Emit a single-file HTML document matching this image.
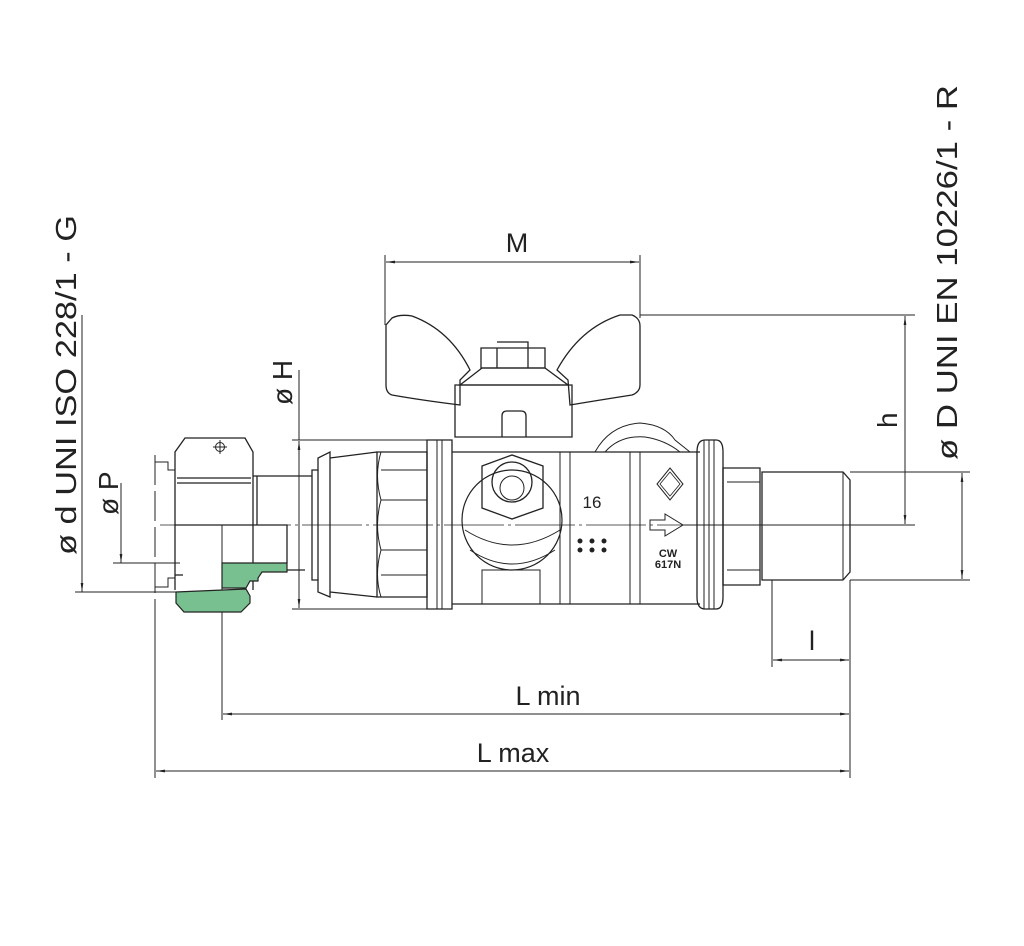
<!DOCTYPE html>
<html><head><meta charset="utf-8"><style>
html,body{margin:0;padding:0;background:#fff}
svg{display:block}
text{font-family:"Liberation Sans",sans-serif;fill:#222}
</style></head><body>
<svg width="1024" height="946" viewBox="0 0 1024 946" xmlns="http://www.w3.org/2000/svg">
<defs>
<marker id="a" viewBox="0 0 10 10" refX="10" refY="5" markerWidth="9" markerHeight="9" orient="auto-start-reverse" markerUnits="userSpaceOnUse"><path d="M0,3.5 L10,5 L0,6.5 Z" fill="#222"/></marker>
</defs>
<g stroke="#222" stroke-width="1.3" fill="none">
<line x1="160" y1="525" x2="870" y2="525" stroke-width="0.8" stroke-dasharray="60 4 3 4"/>
<line x1="155" y1="600" x2="155" y2="778" stroke-width="1"/>
<line x1="155" y1="455" x2="155" y2="600" stroke-dasharray="30 6" stroke-width="1"/>
<line x1="222" y1="525" x2="222" y2="720" stroke-width="1"/>
<line x1="75" y1="592" x2="180" y2="592" stroke-width="1"/>
<line x1="113" y1="563" x2="180" y2="563" stroke-width="1"/>
<line x1="82" y1="315" x2="82" y2="592" marker-end="url(#a)" stroke-width="1"/>
<line x1="121" y1="483" x2="121" y2="563" marker-end="url(#a)" stroke-width="1"/>
<path d="M155,462 H168 V470 H175 M175,578 H168 V587 H155" stroke-width="1"/>
<path d="M185,438 H245 L253,452 V525 H175 V452 Z"/>
<line x1="177" y1="478" x2="251" y2="478"/>
<line x1="177" y1="483" x2="251" y2="483"/>
<circle cx="220" cy="447" r="4.5" stroke-width="1"/>
<line x1="220" y1="440" x2="220" y2="454" stroke-width="1"/>
<line x1="213" y1="447" x2="227" y2="447" stroke-width="1"/>
<path d="M175,525 V590 M253,525 V590"/>
<path d="M175,575 H183"/>
<path d="M253,476 H312 M253,525 H287 V563 M287,570 H305"/>
<path d="M257,476 V525"/>
<!-- green ferrule -->
<path d="M222,563 H287 V572 H262 L258,578 V581 H250 L246,588 H222 Z" fill="#78c090" stroke-width="1.2"/>
<path d="M176,592 L246,589 L250,596 V603 L241,612 H184 L176,603 Z" fill="#78c090" stroke-width="1.2"/>
<line x1="292" y1="440" x2="430" y2="440" stroke-width="1"/>
<line x1="292" y1="609" x2="430" y2="609" stroke-width="1"/>
<line x1="299" y1="370" x2="299" y2="440" stroke-width="1"/>
<line x1="299" y1="462" x2="299" y2="441" marker-end="url(#a)" stroke-width="1"/>
<line x1="299" y1="462" x2="299" y2="608" marker-end="url(#a)" stroke-width="1"/>
<path d="M312,470 H318 V458 L330,452 V597 L318,592 V580 H312 Z"/>
<path d="M330,458 L377,452 M330,592 L377,597 M318,470 V580"/>
<path d="M377,452 H427 V597 H377 Z"/>
<path d="M381,470 H427 M381,500 H427 M381,550 H427 M381,575 H427" stroke-width="1"/>
<path d="M381,452 Q374,475 381,500 Q374,525 381,550 Q374,575 381,597" stroke-width="1"/>
<path d="M427,440 H452 V609 H427 Z"/>
<path d="M437,440 V609 M442,440 V609" stroke-width="1"/>
<path d="M452,452 H700 M452,604 H700"/>
<path d="M560,452 V604 M640,452 V604 M570,452 V604 M630,452 V604" stroke-width="1"/>
<path d="M392,318 Q400,314 412,316 Q450,330 470,370 L460,380 L460,405 Q420,400 392,395 Q386,393 386,385 V325 Z"/>
<path d="M632,315 Q640,318 640,326 V385 Q640,392 632,395 Q600,400 570,405 L568,380 L557,370 Q580,328 620,315 Z"/>
<path d="M460,385 L482,368 H545 L568,385 Z"/>
<path d="M481,348 H545 V368 H481 Z M497,342 H528 V348 M497,348 V368 M528,348 V368"/>
<path d="M455,385 H572 V437 H455 Z"/>
<path d="M502,437 V416 Q502,411 507,411 H521 Q526,411 526,416 V437"/>
<circle cx="512" cy="520" r="50" stroke-width="1.2"/>
<path d="M465,530 Q512,560 560,530 M470,550 Q512,578 555,550" stroke-width="1"/>
<path d="M482,466 L512,455 L543,466 V508 L512,519 L482,508 Z"/>
<circle cx="512" cy="482" r="20"/>
<circle cx="512" cy="488" r="12" stroke-width="1"/>
<path d="M482,570 H540 V604 H482 Z" stroke-width="1"/>
<path d="M595,452 Q610,425 640,423 Q665,425 675,440 L690,452" stroke-width="1"/>
<path d="M605,452 Q620,435 645,437 Q665,440 680,452" stroke-width="1"/>
<path d="M670,468 L683,484 L670,500 L657,484 Z" stroke-width="1"/>
<path d="M670,472 L680,484 L670,496 L660,484 Z" stroke-width="0.8"/>
<path d="M650,520 H665 V514 L683,525 L665,536 V530 H650 Z" stroke-width="1"/>
<path d="M697,452 Q697,440 705,440 H716 Q723,440 723,452 V597 Q723,609 716,609 H705 Q697,609 697,597 Z"/>
<path d="M704,440 V609 M709,440 V609 M714,440 V609" stroke-width="1"/>
<path d="M723,468 H760 V585 H723 Z"/>
<path d="M727,482 H760 M727,570 H760" stroke-width="1"/>
<path d="M762,472 H843 L850,480 V572 L843,580 H762 Z"/>
<path d="M843,472 V580" stroke-width="1"/>
<line x1="385" y1="255" x2="385" y2="325" stroke-width="1"/>
<line x1="640" y1="255" x2="640" y2="318" stroke-width="1"/>
<line x1="386" y1="262" x2="639" y2="262" marker-start="url(#a)" marker-end="url(#a)" stroke-width="1"/>
<line x1="640" y1="315" x2="915" y2="315" stroke-width="1"/>
<line x1="683" y1="525" x2="915" y2="525" stroke-width="1"/>
<line x1="905" y1="316" x2="905" y2="524" marker-start="url(#a)" marker-end="url(#a)" stroke-width="1"/>
<line x1="850" y1="472" x2="970" y2="472" stroke-width="1"/>
<line x1="850" y1="580" x2="970" y2="580" stroke-width="1"/>
<line x1="962" y1="473" x2="962" y2="579" marker-start="url(#a)" marker-end="url(#a)" stroke-width="1"/>
<line x1="772" y1="580" x2="772" y2="667" stroke-width="1"/>
<line x1="850" y1="580" x2="850" y2="778" stroke-width="1"/>
<line x1="773" y1="660" x2="849" y2="660" marker-start="url(#a)" marker-end="url(#a)" stroke-width="1"/>
<line x1="223" y1="714" x2="849" y2="714" marker-start="url(#a)" marker-end="url(#a)" stroke-width="1"/>
<line x1="156" y1="771" x2="849" y2="771" marker-start="url(#a)" marker-end="url(#a)" stroke-width="1"/>
</g>
<g fill="#222">
<circle cx="580" cy="541" r="2.5"/><circle cx="592" cy="541" r="2.5"/><circle cx="604" cy="541" r="2.5"/>
<circle cx="580" cy="550" r="2.5"/><circle cx="592" cy="550" r="2.5"/><circle cx="604" cy="550" r="2.5"/>
</g>
<text x="592" y="508" font-size="17" text-anchor="middle">16</text>
<text x="668" y="557" font-size="11" font-weight="bold" text-anchor="middle">CW</text>
<text x="668" y="568" font-size="11" font-weight="bold" text-anchor="middle">617N</text>
<text x="517" y="252" font-size="27" text-anchor="middle">M</text>
<text x="812" y="650" font-size="27" text-anchor="middle">l</text>
<text x="548" y="705" font-size="27" text-anchor="middle">L min</text>
<text x="513" y="762" font-size="27" text-anchor="middle">L max</text>
<text transform="translate(76,555) rotate(-90)" font-size="29" textLength="340" lengthAdjust="spacingAndGlyphs">ø d UNI ISO 228/1 - G</text>
<text transform="translate(118,515) rotate(-90)" font-size="28">ø P</text>
<text transform="translate(292,405) rotate(-90)" font-size="28">ø H</text>
<text transform="translate(897,428) rotate(-90)" font-size="28">h</text>
<text transform="translate(957,460) rotate(-90)" font-size="29" textLength="375" lengthAdjust="spacingAndGlyphs">ø D UNI EN 10226/1 - R</text>
</svg>
</body></html>
